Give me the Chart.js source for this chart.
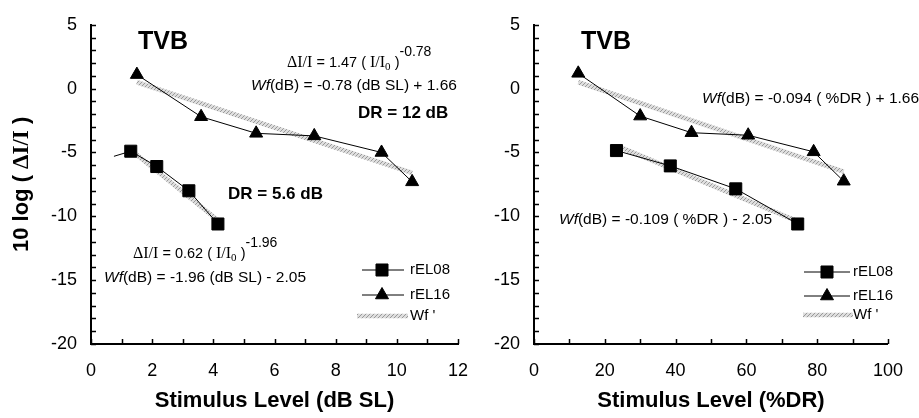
<!DOCTYPE html>
<html>
<head>
<meta charset="utf-8">
<script src="https://cdn.jsdelivr.net/npm/chart.js@4"></script>
<style>
  body { margin: 0; background: #fff; }
  #wrap { position: relative; width: 919px; height: 418px; overflow: hidden; }
  #left, #right { position: absolute; top: 0; }
  #left { left: 0; }
  #right { left: 460px; }
</style>
</head>
<body>
<div id="wrap">
  <canvas id="left" width="500" height="418"></canvas>
  <canvas id="right" width="459" height="418"></canvas>
</div>
<script>
const SANS = 'Arial, "Liberation Sans", sans-serif';
const SERIF = '"Times New Roman", "Liberation Serif", serif';

// left panel: stimulus level in dB SL
const dbX08 = [0.75, 1.3, 2.15, 3.2, 4.15];
const dbY08 = [-5.3, -4.9, -6.1, -8.0, -10.6];
const dbR08 = [0, 8.5, 8.5, 8.5, 8.5];
const dbX16 = [1.5, 3.6, 5.4, 7.3, 9.5, 10.5];
const dbY16 = [1.1, -2.2, -3.5, -3.7, -5.0, -7.3];
const dbFitX08 = [1.3, 4.2];
const dbFitY08 = [-4.8, -10.4];
const dbFitX16 = [1.5, 10.5];
const dbFitY16 = [0.5, -6.6];

// right panel: stimulus level in %DR
const drX08 = [23.3, 38.5, 57, 74.5];
const drY08 = [-4.85, -6.05, -7.85, -10.6];
const drR08 = [8.5, 8.5, 8.5, 8.5];
const drX16 = [12.5, 30, 44.5, 60.5, 79, 87.5];
const drY16 = [1.2, -2.15, -3.45, -3.65, -4.95, -7.25];
const drFitX08 = [24.5, 74.5];
const drFitY08 = [-4.6, -10.4];
const drFitX16 = [12.5, 87.5];
const drFitY16 = [0.5, -6.5];

const seriesNames = ['rEL08', 'rEL16', "Wf '"];
const yTicks = [-20, -15, -10, -5, 0, 5];
const dbTicks = [0, 2, 4, 6, 8, 10, 12];
const drTicks = [0, 20, 40, 60, 80, 100];

function pts(xs, ys) {
  return xs.map((x, i) => ({ x: x, y: ys[i] }));
}

function hatch(ctx) {
  const c = document.createElement('canvas');
  c.width = 4; c.height = 4;
  const g = c.getContext('2d');
  g.fillStyle = '#dedede';
  g.fillRect(0, 0, 4, 4);
  g.fillStyle = '#999';
  for (let i = 0; i < 4; i++) g.fillRect(i, 3 - i, 1, 1);
  return ctx.createPattern(c, 'repeat');
}

// draw a row of text pieces with their own fonts and vertical shifts
function runs(ctx, x, y, parts) {
  ctx.textAlign = 'left';
  ctx.textBaseline = 'alphabetic';
  ctx.fillStyle = '#000';
  parts.forEach(p => {
    ctx.font = p.f;
    ctx.fillText(p.t, x, y + (p.dy || 0));
    x += ctx.measureText(p.t).width;
  });
}

function label(ctx, text, x, y, font) {
  ctx.font = font;
  ctx.textAlign = 'left';
  ctx.textBaseline = 'middle';
  ctx.fillStyle = '#000';
  ctx.fillText(text, x, y);
}

function wf(ctx, x, y, rest) {
  ctx.textBaseline = 'middle';
  ctx.textAlign = 'left';
  ctx.fillStyle = '#000';
  ctx.font = 'italic 15.5px ' + SANS;
  ctx.fillText('Wf', x, y);
  const w = ctx.measureText('Wf').width;
  ctx.font = '15.5px ' + SANS;
  ctx.fillText(rest, x + w, y);
}

function deltaEq(ctx, x, y, k, p) {
  runs(ctx, x, y, [
    { t: 'ΔI/I', f: '16px ' + SERIF },
    { t: ' = ' + k + ' ( ', f: '14.5px ' + SANS },
    { t: 'I/I', f: '16px ' + SERIF },
    { t: '0', f: '11px ' + SERIF, dy: 3 },
    { t: ' )', f: '14.5px ' + SANS },
    { t: p, f: '14px ' + SANS, dy: -11 }
  ]);
}

function drawLegend(ctx, lg, sets) {
  sets.forEach((ds, i) => {
    const y = lg.ys[i];
    const marker = ds.pointStyle;
    ctx.save();
    ctx.strokeStyle = ds.borderColor;
    ctx.lineWidth = ds.borderWidth;
    ctx.beginPath();
    if (marker) {
      ctx.moveTo(lg.x0, y);
      ctx.lineTo(lg.x1, y);
    } else {
      ctx.moveTo(lg.f0, y);
      ctx.lineTo(lg.f1, y);
    }
    ctx.stroke();
    if (marker) {
      ctx.fillStyle = '#000';
      ctx.strokeStyle = '#000';
      Chart.helpers.drawPoint(ctx, { pointStyle: marker, radius: marker === 'rect' ? 8.5 : 7.5, borderWidth: 1, rotation: 0 }, lg.xm, y);
    }
    ctx.restore();
    label(ctx, seriesNames[i], lg.tx, y, '15px ' + SANS);
  });
}

function makeChart(id, o) {
  const canvas = document.getElementById(id);
  const ctx = canvas.getContext('2d');
  const pat = hatch(ctx);
  const line = (xs, ys, style, radius) => ({
    data: pts(xs, ys), showLine: true, borderColor: '#000', borderWidth: 1,
    pointStyle: style, pointRadius: radius,
    pointBackgroundColor: '#000', pointBorderColor: '#000', pointBorderWidth: 1, order: 0
  });
  const fit = (xs, ys) => ({
    data: pts(xs, ys), showLine: true, borderColor: pat, borderWidth: 4.5,
    pointRadius: 0, order: 1
  });
  const s08 = line(o.x08, o.y08, 'rect', o.r08);
  const s16 = line(o.x16, o.y16, 'triangle', 7.5);
  const f08 = fit(o.fx08, o.fy08);
  const f16 = fit(o.fx16, o.fy16);

  const decor = {
    id: 'decor',
    afterDraw(chart) {
      const c = chart.ctx;
      const xs = chart.scales.x, ys = chart.scales.y;
      const a = chart.chartArea;
      c.save();
      c.strokeStyle = '#000';
      c.lineWidth = 1.5;
      c.beginPath();
      for (let v = xs.min; v <= xs.max + 1e-9; v += o.minorX) {
        const px = Math.round(xs.getPixelForValue(v)) + 0.5;
        c.moveTo(px, a.bottom);
        c.lineTo(px, a.bottom - 5);
      }
      for (let v = ys.min; v <= ys.max + 1e-9; v += 1) {
        const py = Math.round(ys.getPixelForValue(v)) + 0.5;
        c.moveTo(a.left, py);
        c.lineTo(a.left + 5, py);
      }
      c.stroke();
      c.restore();

      // x axis title
      c.font = 'bold 22px ' + SANS;
      c.textAlign = 'center';
      c.textBaseline = 'middle';
      c.fillStyle = '#000';
      c.fillText(o.xTitle, (a.left + a.right) / 2, 401);

      // y axis title (left panel only)
      if (o.yTitle) {
        c.save();
        c.translate(20, (a.top + a.bottom) / 2);
        c.rotate(-Math.PI / 2);
        const parts = [
          { t: '10 log ( ', f: 'bold 22px ' + SANS },
          { t: 'ΔI/I', f: 'bold 23px ' + SERIF },
          { t: ' )', f: 'bold 22px ' + SANS }
        ];
        let w = 0;
        parts.forEach(p => { c.font = p.f; w += c.measureText(p.t).width; });
        runs(c, -w / 2, 8, parts);
        c.restore();
      }

      label(c, 'TVB', o.tvbX, 42, 'bold 25px ' + SANS);
      o.notes(c);
      drawLegend(c, o.legend, [s08, s16, f08]);
    }
  };

  return new Chart(canvas, {
    type: 'scatter',
    data: { datasets: [s08, s16, f08, f16] },
    options: {
      responsive: false,
      animation: false,
      layout: { padding: { top: 18, right: o.padRight, left: 0, bottom: 0 } },
      plugins: { legend: { display: false }, tooltip: { enabled: false } },
      scales: {
        x: {
          type: 'linear',
          min: o.xTicks[0], max: o.xTicks[o.xTicks.length - 1],
          afterFit(s) { s.height = 74; },
          grid: { drawOnChartArea: false, drawTicks: false },
          border: { display: true, color: '#000', width: 2 },
          ticks: { stepSize: o.xTicks[1] - o.xTicks[0], color: '#000', padding: 16, font: { family: SANS, size: 18 }, maxRotation: 0 }
        },
        y: {
          type: 'linear',
          min: yTicks[0], max: yTicks[yTicks.length - 1],
          afterFit(s) { s.width = o.yWidth; },
          grid: { drawOnChartArea: false, drawTicks: false },
          border: { display: true, color: '#000', width: 2 },
          ticks: { stepSize: yTicks[1] - yTicks[0], color: '#000', padding: 14, font: { family: SANS, size: 18 } }
        }
      }
    },
    plugins: [decor]
  });
}

makeChart('left', {
  x08: dbX08, y08: dbY08, r08: dbR08, x16: dbX16, y16: dbY16,
  fx08: dbFitX08, fy08: dbFitY08, fx16: dbFitX16, fy16: dbFitY16,
  xTicks: dbTicks, minorX: 1, yWidth: 91, padRight: 42, yTitle: true,
  xTitle: 'Stimulus Level (dB SL)', tvbX: 138,
  legend: { x0: 362, x1: 404, xm: 382, f0: 357, f1: 408, tx: 410, ys: [270, 295, 316] },
  notes(c) {
    deltaEq(c, 287, 67, '1.47', '-0.78');
    wf(c, 251, 86, '(dB) = -0.78 (dB SL) + 1.66');
    label(c, 'DR = 12 dB', 358, 113, 'bold 17px ' + SANS);
    label(c, 'DR = 5.6 dB', 228, 194, 'bold 17px ' + SANS);
    deltaEq(c, 133, 258, '0.62', '-1.96');
    wf(c, 104, 278, '(dB) = -1.96 (dB SL) - 2.05');
  }
});

makeChart('right', {
  x08: drX08, y08: drY08, r08: drR08, x16: drX16, y16: drY16,
  fx08: drFitX08, fy08: drFitY08, fx16: drFitX16, fy16: drFitY16,
  xTicks: drTicks, minorX: 10, yWidth: 74, padRight: 16, yTitle: false,
  xTitle: 'Stimulus Level (%DR)', tvbX: 121,
  legend: { x0: 344, x1: 390, xm: 367, f0: 343, f1: 393, tx: 393, ys: [272, 296, 315] },
  notes(c) {
    wf(c, 242, 99, '(dB) = -0.094 ( %DR ) + 1.66');
    wf(c, 99, 220, '(dB) = -0.109 ( %DR ) - 2.05');
  }
});
</script>
</body>
</html>
